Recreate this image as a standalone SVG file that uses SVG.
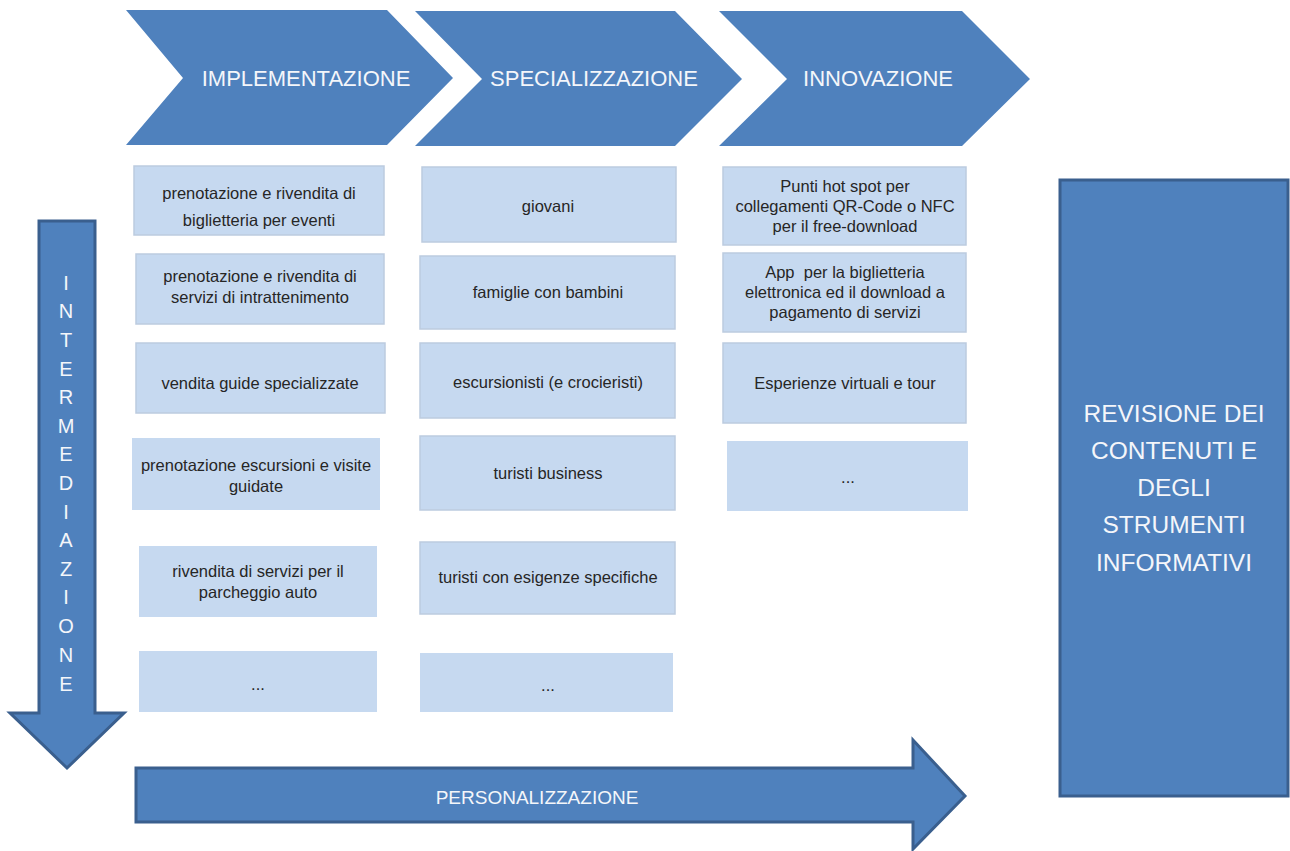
<svg xmlns="http://www.w3.org/2000/svg" width="1290" height="851" viewBox="0 0 1290 851">
<style>
.chev{fill:#4F81BD}
.hd{fill:#F4F6FA;font-family:"Liberation Sans",Arial,sans-serif;font-size:22px;text-anchor:middle;dominant-baseline:central}
.box{fill:#C6D9F0;stroke:#BCCBDF;stroke-width:1.5}
.boxn{fill:#C6D9F0}
.t{fill:#262626;font-family:"Liberation Sans",Arial,sans-serif;font-size:16.5px;text-anchor:middle;dominant-baseline:central}
.arr{fill:#4F81BD;stroke:#3A5F8E;stroke-width:3;stroke-linejoin:miter}
.wt{fill:#F4F6FA;font-family:"Liberation Sans",Arial,sans-serif;text-anchor:middle;dominant-baseline:central}
</style>
<rect width="1290" height="851" fill="#FFFFFF"/>
<g id="chevron-implementazione">
<polygon class="chev" points="126,10 387,10 453,78 387,145 126,145 183,78"/>
<text class="hd" x="306" y="78">IMPLEMENTAZIONE</text>
</g>
<g id="chevron-specializzazione">
<polygon class="chev" points="415,11 675,11 742,79 675,146 415,146 482,79"/>
<text class="hd" x="594" y="78">SPECIALIZZAZIONE</text>
</g>
<g id="chevron-innovazione">
<polygon class="chev" points="719,11 962,11 1030,79 962,146 719,146 787,79"/>
<text class="hd" x="878" y="78">INNOVAZIONE</text>
</g>
<g id="impl-1"><rect class="box" x="134" y="166" width="250" height="69"/><text class="t" x="259" y="193">prenotazione e rivendita di</text><text class="t" x="259" y="220">biglietteria per eventi</text></g>
<g id="impl-2"><rect class="box" x="136" y="254" width="248" height="70"/><text class="t" x="260" y="276">prenotazione e rivendita di</text><text class="t" x="260" y="297">servizi di intrattenimento</text></g>
<g id="impl-3"><rect class="box" x="136" y="343" width="249" height="70"/><text class="t" x="260" y="383">vendita guide specializzate</text></g>
<g id="impl-4"><rect class="boxn" x="132" y="438" width="248" height="72"/><text class="t" x="256" y="465">prenotazione escursioni e visite</text><text class="t" x="256" y="486">guidate</text></g>
<g id="impl-5"><rect class="boxn" x="139" y="546" width="238" height="71"/><text class="t" x="258" y="571">rivendita di servizi per il</text><text class="t" x="258" y="592">parcheggio auto</text></g>
<g id="impl-6"><rect class="boxn" x="139" y="651" width="238" height="61"/><text class="t" x="258" y="684">...</text></g>
<g id="spec-1"><rect class="box" x="422" y="167" width="254" height="75"/><text class="t" x="548" y="206">giovani</text></g>
<g id="spec-2"><rect class="box" x="420" y="256" width="255" height="73"/><text class="t" x="548" y="292">famiglie con bambini</text></g>
<g id="spec-3"><rect class="box" x="420" y="343" width="255" height="75"/><text class="t" x="548" y="382">escursionisti (e crocieristi)</text></g>
<g id="spec-4"><rect class="box" x="420" y="436" width="255" height="74"/><text class="t" x="548" y="473">turisti business</text></g>
<g id="spec-5"><rect class="box" x="420" y="542" width="255" height="72"/><text class="t" x="548" y="577">turisti con esigenze specifiche</text></g>
<g id="spec-6"><rect class="boxn" x="420" y="653" width="253" height="59"/><text class="t" x="548" y="685">...</text></g>
<g id="inn-1"><rect class="box" x="723" y="167" width="243" height="78"/><text class="t" x="845" y="186">Punti hot spot per</text><text class="t" x="845" y="206">collegamenti QR-Code o NFC</text><text class="t" x="845" y="226">per il free-download</text></g>
<g id="inn-2"><rect class="box" x="723" y="253" width="243" height="79"/><text class="t" x="845" y="272" xml:space="preserve">App  per la biglietteria</text><text class="t" x="845" y="292">elettronica ed il download a</text><text class="t" x="845" y="312">pagamento di servizi</text></g>
<g id="inn-3"><rect class="box" x="723" y="343" width="243" height="80"/><text class="t" x="845" y="383">Esperienze virtuali e tour</text></g>
<g id="inn-4"><rect class="boxn" x="727" y="441" width="241" height="70"/><text class="t" x="848" y="477">...</text></g>
<g id="revisione">
<rect x="1060" y="180" width="228" height="616" fill="#4F81BD" stroke="#3A5F8E" stroke-width="3"/>
<text class="wt" font-size="24.5" x="1174" y="413">REVISIONE DEI</text>
<text class="wt" font-size="24.5" x="1174" y="450">CONTENUTI E</text>
<text class="wt" font-size="24.5" x="1174" y="487">DEGLI</text>
<text class="wt" font-size="24.5" x="1174" y="524">STRUMENTI</text>
<text class="wt" font-size="24.5" x="1174" y="562">INFORMATIVI</text>
</g>
<g id="connectors">
<g id="arrow-intermediazione">
<polygon class="arr" points="39,221 95,221 95,713 124,713 67,768 10,713 39,713"/>
<g class="wt" font-size="20">
<text x="66" y="283">I</text><text x="66" y="311">N</text><text x="66" y="340">T</text><text x="66" y="369">E</text><text x="66" y="397">R</text><text x="66" y="426">M</text><text x="66" y="454">E</text><text x="66" y="483">D</text><text x="66" y="512">I</text><text x="66" y="540">A</text><text x="66" y="569">Z</text><text x="66" y="597">I</text><text x="66" y="626">O</text><text x="66" y="655">N</text><text x="66" y="684">E</text>
</g>
</g>
<g id="arrow-personalizzazione">
<polygon class="arr" points="136,768 913,768 913,740 965,796 913,849 913,822 136,822"/>
<text class="wt" font-size="19" x="537" y="797">PERSONALIZZAZIONE</text>
</g>
</g>
</svg>
